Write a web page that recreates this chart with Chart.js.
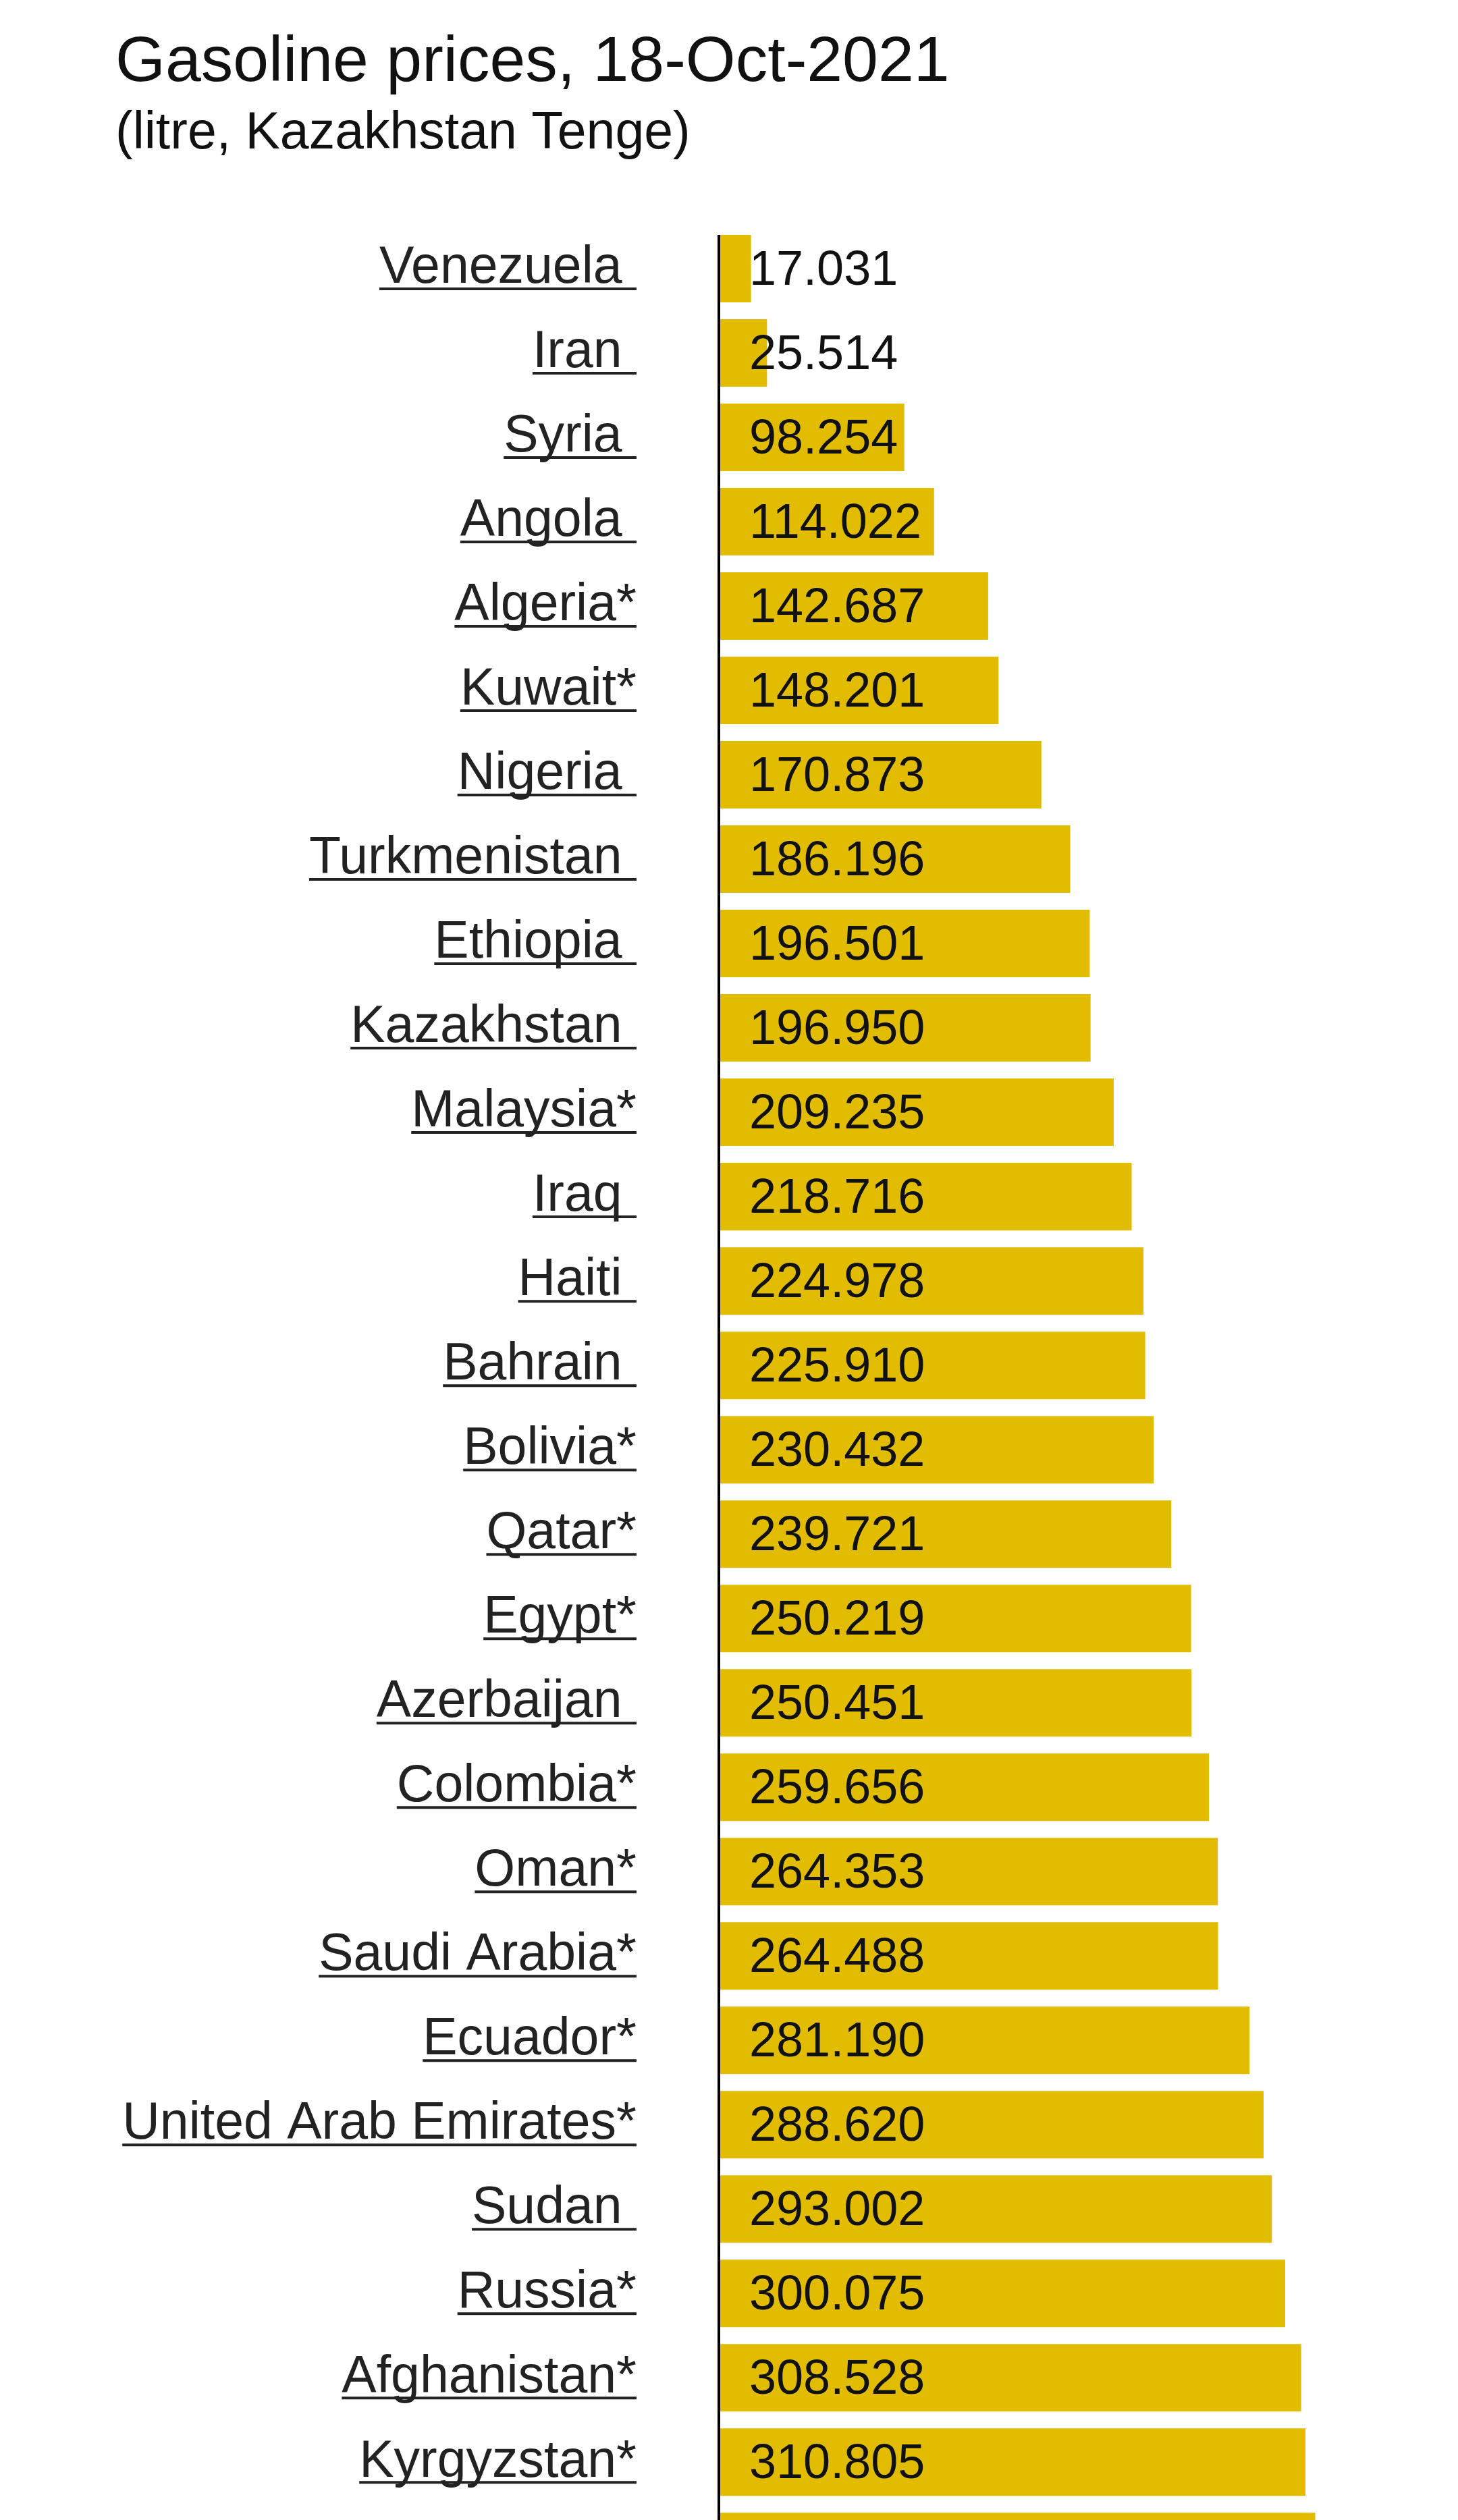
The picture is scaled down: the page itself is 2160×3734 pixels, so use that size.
<!DOCTYPE html>
<html>
<head>
<meta charset="utf-8">
<script src="https://cdn.jsdelivr.net/npm/chart.js@4/dist/chart.umd.min.js"></script>
<style>
  html, body { margin: 0; padding: 0; background: #fff; overflow: hidden; }
  #wrap { position: absolute; left: 0; top: 0; width: 2160px; height: 4004px; }
</style>
</head>
<body>
<div id="wrap"><canvas id="priceChart" width="2160" height="4004"></canvas></div>
<script>
// countries, top to bottom (* = as marked in the source)
const countries = [
  "Venezuela", "Iran", "Syria", "Angola", "Algeria*", "Kuwait*", "Nigeria",
  "Turkmenistan", "Ethiopia", "Kazakhstan", "Malaysia*", "Iraq", "Haiti",
  "Bahrain", "Bolivia*", "Qatar*", "Egypt*", "Azerbaijan", "Colombia*",
  "Oman*", "Saudi Arabia*", "Ecuador*", "United Arab Emirates*", "Sudan",
  "Russia*", "Afghanistan*", "Kyrgyzstan*", ""
];

// price per litre, KZT (last bar is cut off by the page edge, value estimated)
const prices = [
  17.031, 25.514, 98.254, 114.022, 142.687, 148.201, 170.873,
  186.196, 196.501, 196.950, 209.235, 218.716, 224.978,
  225.910, 230.432, 239.721, 250.219, 250.451, 259.656,
  264.353, 264.488, 281.190, 288.620, 293.002,
  300.075, 308.528, 310.805, 316
];

const FONT = "'Liberation Sans', Arial, sans-serif";
const LABEL_PAD = 122;

function tickText(name) {
  if (!name) return "";
  return name.endsWith("*") ? name : name + " ";
}

const extras = {
  id: "extras",
  afterDraw(chart) {
    const ctx = chart.ctx;
    const meta = chart.getDatasetMeta(0);
    const xs = chart.scales.x;
    const ys = chart.scales.y;
    const x0 = xs.getPixelForValue(0);

    ctx.save();
    // value labels inside bars
    ctx.font = "72px " + FONT;
    ctx.fillStyle = "#111";
    ctx.textAlign = "left";
    ctx.textBaseline = "middle";
    meta.data.forEach((bar, i) => {
      ctx.fillText(prices[i].toFixed(3), x0 + 45, bar.y + 4);
    });

    // underline under country names
    ctx.font = "77px " + FONT;
    ctx.strokeStyle = "#222";
    ctx.lineWidth = 4;
    const right = ys.right - LABEL_PAD;
    countries.forEach((c, i) => {
      const t = tickText(c);
      if (!t) return;
      const w = ctx.measureText(t).width;
      const y = ys.getPixelForTick(i) + 30;
      ctx.beginPath();
      ctx.moveTo(right - w, y);
      ctx.lineTo(right, y);
      ctx.stroke();
    });

    // vertical axis line starting at first bar
    const first = meta.data[0];
    ctx.strokeStyle = "#000";
    ctx.lineWidth = 4;
    ctx.beginPath();
    ctx.moveTo(x0, first.y - first.height / 2);
    ctx.lineTo(x0, chart.height);
    ctx.stroke();
    ctx.restore();
  }
};

new Chart(document.getElementById("priceChart"), {
  type: "bar",
  data: {
    labels: countries,
    datasets: [{
      data: prices,
      backgroundColor: "#e1bc00",
      barPercentage: 0.8,
      categoryPercentage: 1
    }]
  },
  options: {
    indexAxis: "y",
    responsive: false,
    animation: false,
    layout: { padding: { left: 171, right: 116.4, top: 0, bottom: 64.5 } },
    plugins: {
      legend: { display: false },
      tooltip: { enabled: false },
      title: {
        display: true,
        text: "Gasoline prices, 18-Oct-2021",
        align: "start",
        color: "#111",
        font: { family: FONT, size: 95, weight: "normal", lineHeight: 1.2 },
        padding: { top: 37, bottom: 0 }
      },
      subtitle: {
        display: true,
        text: "(litre, Kazakhstan Tenge)",
        align: "start",
        color: "#111",
        font: { family: FONT, size: 77, weight: "normal", lineHeight: 1.2 },
        padding: { top: 1.2, bottom: 90.9 }
      }
    },
    scales: {
      x: { display: false, min: 0, max: 350 },
      y: {
        afterFit(scale) { scale.width = 1065 - 171; },
        grid: { display: false, drawTicks: false },
        border: { display: false },
        ticks: {
          padding: LABEL_PAD,
          labelOffset: 0,
          color: "#222",
          font: { family: FONT, size: 77 },
          callback: (v, i) => tickText(countries[i])
        }
      }
    }
  },
  plugins: [extras]
});
</script>
</body>
</html>
